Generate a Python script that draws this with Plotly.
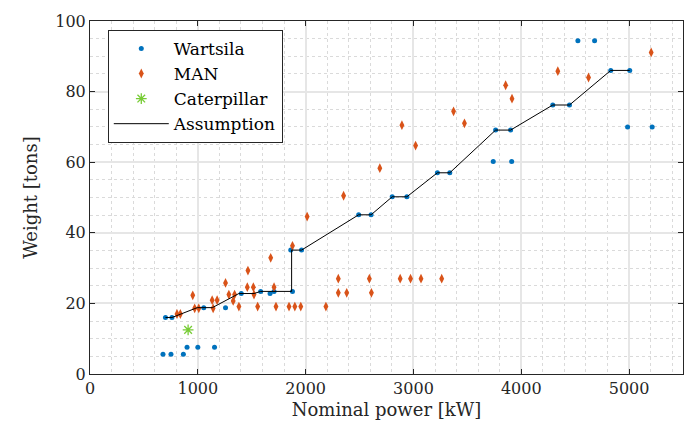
import plotly.graph_objects as go

# Wartsila data
wartsila_power = [677, 751, 866, 900, 1000, 1155,
                  700, 760, 1055, 1257, 1403, 1583, 1670, 1707, 1878,
                  1862, 1962, 2492, 2607, 2803, 2939, 3222, 3337,
                  3740, 3911, 3762, 3901, 4292, 4447, 4830, 5006,
                  4525, 4680, 4986, 5214]
wartsila_weight = [5.6, 5.6, 5.6, 7.6, 7.6, 7.6,
                   16.0, 16.0, 18.8, 18.8, 22.8, 23.4, 22.8, 23.4, 23.4,
                   35.1, 35.1, 45.1, 45.1, 50.2, 50.2, 57.0, 57.0,
                   60.2, 60.2, 69.1, 69.1, 76.2, 76.2, 86.0, 86.0,
                   94.4, 94.4, 70.0, 70.0]

# MAN data
man_power = [807, 838, 953, 971, 1009, 1133, 1179, 1142, 1257, 1288, 1341, 1328,
             1381, 1459, 1515, 1465, 1521, 1555, 1676, 1707, 1725, 1846, 1900, 1955,
             1878, 2014, 2188, 2303, 2303, 2352, 2381, 2591, 2610, 2688, 2877, 2973,
             3070, 3262, 2893, 3020, 3372, 3473, 3855, 3914, 4339, 4624, 5205]
man_weight = [17.0, 17.0, 22.3, 18.6, 18.6, 20.9, 20.9, 18.6, 25.8, 22.5, 22.5, 20.7,
              19.1, 24.6, 24.6, 29.3, 22.5, 19.1, 32.9, 24.6, 19.1, 19.1, 19.1, 19.1,
              36.3, 44.6, 19.1, 27.0, 23.0, 50.5, 23.0, 27.0, 23.0, 58.3, 27.0, 27.0,
              27.0, 27.0, 70.5, 64.7, 74.4, 71.0, 81.8, 78.0, 85.8, 84.0, 91.1]

# Caterpillar data
cat_power = [910]
cat_weight = [12.5]

# Assumption line
assump_power = [700, 760, 995, 1135, 1381, 1521, 1583, 1870, 1870, 1962,
                2492, 2607, 2803, 2939, 3222, 3337, 3762, 3901, 4292, 4447, 4830, 5006]
assump_weight = [16.0, 16.0, 18.8, 18.8, 22.8, 22.8, 23.4, 23.4, 35.1, 35.1,
                 45.1, 45.1, 50.2, 50.2, 57.0, 57.0, 69.1, 69.1, 76.2, 76.2, 86.0, 86.0]

x_ticks = [0, 1000, 2000, 3000, 4000, 5000]
y_ticks = [0, 20, 40, 60, 80, 100]

FONT = "DejaVu Serif"

fig = go.Figure()
fig.add_trace(go.Scatter(x=wartsila_power, y=wartsila_weight, mode="markers", name="Wartsila",
                         marker=dict(color="#0072BD", size=5, symbol="circle")))
fig.add_trace(go.Scatter(x=man_power, y=man_weight, mode="markers", name="MAN",
                         marker=dict(color="#D95319", size=7, symbol="diamond-tall")))
fig.add_trace(go.Scatter(x=cat_power, y=cat_weight, mode="markers", name="Caterpillar",
                         marker=dict(color="#77CC35", size=9, symbol="asterisk-open",
                                     line=dict(color="#77CC35", width=1.3))))
fig.add_trace(go.Scatter(x=assump_power, y=assump_weight, mode="lines", name="Assumption",
                         line=dict(color="black", width=1)))

axis_common = dict(
    showline=True, linecolor="#262626", linewidth=1, mirror="ticks",
    ticks="inside", ticklen=5, tickcolor="#262626",
    showgrid=True, gridcolor="#e6e6e6", gridwidth=1.5,
    zeroline=False,
    tickfont=dict(family=FONT, size=16, color="#262626"),
)

fig.update_xaxes(range=[0, 5500], tickvals=x_ticks,
                 title=dict(text="Nominal power [kW]", font=dict(family=FONT, size=18, color="#262626"), standoff=6),
                 minor=dict(dtick=200, showgrid=True, gridcolor="#dadada", griddash="dot", gridwidth=1),
                 **axis_common)
fig.update_yaxes(range=[0, 100], tickvals=y_ticks,
                 title=dict(text="Weight [tons]", font=dict(family=FONT, size=18, color="#262626"), standoff=12),
                 minor=dict(dtick=5, showgrid=True, gridcolor="#dadada", griddash="dot", gridwidth=1),
                 **axis_common)

fig.update_layout(
    width=698, height=444,
    margin=dict(l=90, r=15, t=16, b=70),
    paper_bgcolor="white", plot_bgcolor="white",
    font=dict(family=FONT, size=16, color="#262626"),
    showlegend=True,
    legend=dict(x=0.03, y=0.975, xanchor="left", yanchor="top",
                bgcolor="white", bordercolor="#262626", borderwidth=1,
                font=dict(family=FONT, size=17, color="black"),
                tracegroupgap=0, itemwidth=55),
)

fig.write_html("out.html")
